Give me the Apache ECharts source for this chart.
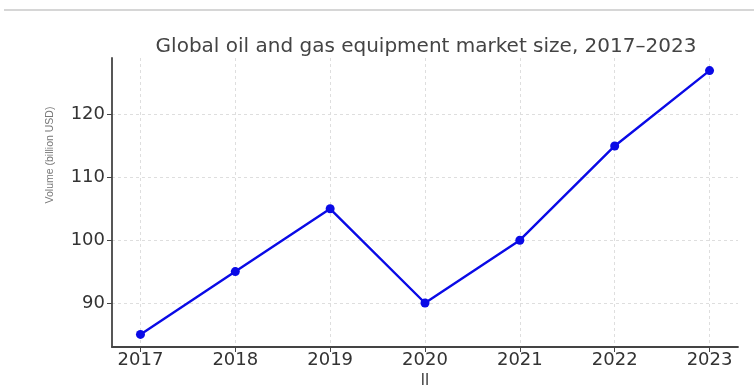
<!DOCTYPE html>
<html><head><meta charset="utf-8">
<script src="https://cdn.jsdelivr.net/npm/echarts@6/dist/echarts.min.js"></script>
<style>html,body{margin:0;padding:0;background:#fff}#c{width:754px;height:390px}</style>
</head><body><div id="c"></div>
<script>
const years = [2017, 2018, 2019, 2020, 2021, 2022, 2023];
const volumes = [85, 95, 105, 90, 100, 115, 127];
const yTicks = [90, 100, 110, 120];
const titleText = 'Global oil and gas equipment market size, 2017\u20132023';
const yName = 'Volume (billion USD)';
const xName = 'll';

const chart = echarts.init(document.getElementById('c'), null, {renderer: 'canvas'});
const gridLine = {show: true, lineStyle: {color: '#dedede', type: [3, 3], width: 1}};
chart.setOption({
  animation: false,
  title: {text: titleText, left: 421, top: 32, textAlign: 'center',
    textStyle: {fontFamily: 'DejaVu Sans', fontSize: 20, fontWeight: 'normal', color: '#444'}},
  graphic: [
    {type: 'line', shape: {x1: 4, y1: 10, x2: 754, y2: 10}, style: {stroke: '#c8c8c8', lineWidth: 1.5}},
    {type: 'text', x: 50, y: 155, rotation: Math.PI / 2,
      style: {text: yName, align: 'center', verticalAlign: 'middle',
        font: '10.5px "Liberation Sans"', fill: '#777'}}
  ],
  grid: {left: 112, right: 16, top: 58, bottom: 43, outerBoundsMode: 'none'},
  xAxis: {type: 'value', min: 2016.7, max: 2023.3,
    name: xName, nameLocation: 'middle', nameGap: 24,
    nameTextStyle: {fontFamily: 'DejaVu Sans', fontSize: 15, color: '#333'},
    axisLine: {show: true, onZero: false, lineStyle: {color: '#444', width: 1.8}},
    axisTick: {show: true, length: 5, customValues: years, lineStyle: {color: '#444'}},
    axisLabel: {customValues: years, formatter: v => String(v), margin: 4,
      fontFamily: 'DejaVu Sans', fontSize: 18, color: '#333'},
    splitLine: gridLine},
  yAxis: {type: 'value', min: 83, max: 129,
    axisLine: {show: true, lineStyle: {color: '#444', width: 1.8}},
    axisTick: {show: true, length: 5, customValues: yTicks, lineStyle: {color: '#444'}},
    axisLabel: {customValues: yTicks, margin: 7,
      fontFamily: 'DejaVu Sans', fontSize: 18, color: '#333'},
    splitLine: gridLine},
  series: [{type: 'line', data: years.map((y, i) => [y, volumes[i]]),
    symbol: 'circle', symbolSize: 9,
    lineStyle: {color: '#0a0ae6', width: 2.4},
    itemStyle: {color: '#0a0ae6'}}]
});
</script></body></html>
